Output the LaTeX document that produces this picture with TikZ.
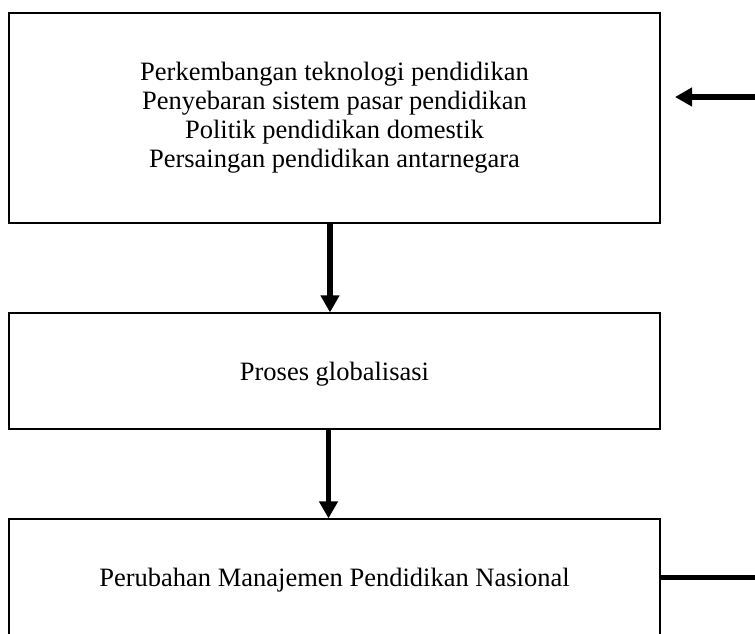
\documentclass[tikz,border=0pt]{standalone}
\usepackage{fontspec}
\setmainfont{Liberation Serif}
\usetikzlibrary{arrows.meta}
\tikzset{
	block/.style  = {draw, fill=white, rectangle, line width=1.2pt, minimum width=651pt, align=center, font=\fontsize{26.5}{29}\selectfont},
	hidden/.style = {coordinate},
	link/.style   = {line width=5.5pt},
}

\begin{document}
\begin{tikzpicture}[auto, x=1pt, y=-1pt, >={Triangle[width=18pt,length=17pt]}]
	\useasboundingbox (0,0) rectangle (755,634);
	% Draw the three stages
	\draw
	node[block , minimum height=210pt] (drivers) at (334.5,118) {Perkembangan teknologi pendidikan\\Penyebaran sistem pasar pendidikan\\Politik pendidikan domestik\\Persaingan pendidikan antarnegara}
	node[block , below of = drivers      , node distance = 253pt  , minimum height=116pt, text depth=0pt] (globalisation) {Proses globalisasi}
	node[block , below of = globalisation, node distance = 206.5pt, minimum height=117pt, text depth=0pt] (change) {Perubahan Manajemen Pendidikan Nasional}
	node[hidden, right of = drivers      , node distance = 422pt  , yshift=21pt] (driversin) {}
	node[hidden, right of = drivers      , node distance = 340.5pt, yshift=21pt] (driverstip) {}
	node[hidden, right of = change       , node distance = 422pt  ] (changeout) {};
	
	% Connect everything together
	\draw[->, link] ([xshift=-4.5pt]drivers.south) -- ([xshift=-4.5pt]globalisation.north);
	\draw[->, link] ([xshift=-6pt]globalisation.south) -- ([xshift=-6pt]change.north);
	\draw[->, link] (driversin) -- (driverstip);
	\draw[link] (change.east) -- (changeout);
\end{tikzpicture}
\end{document}
